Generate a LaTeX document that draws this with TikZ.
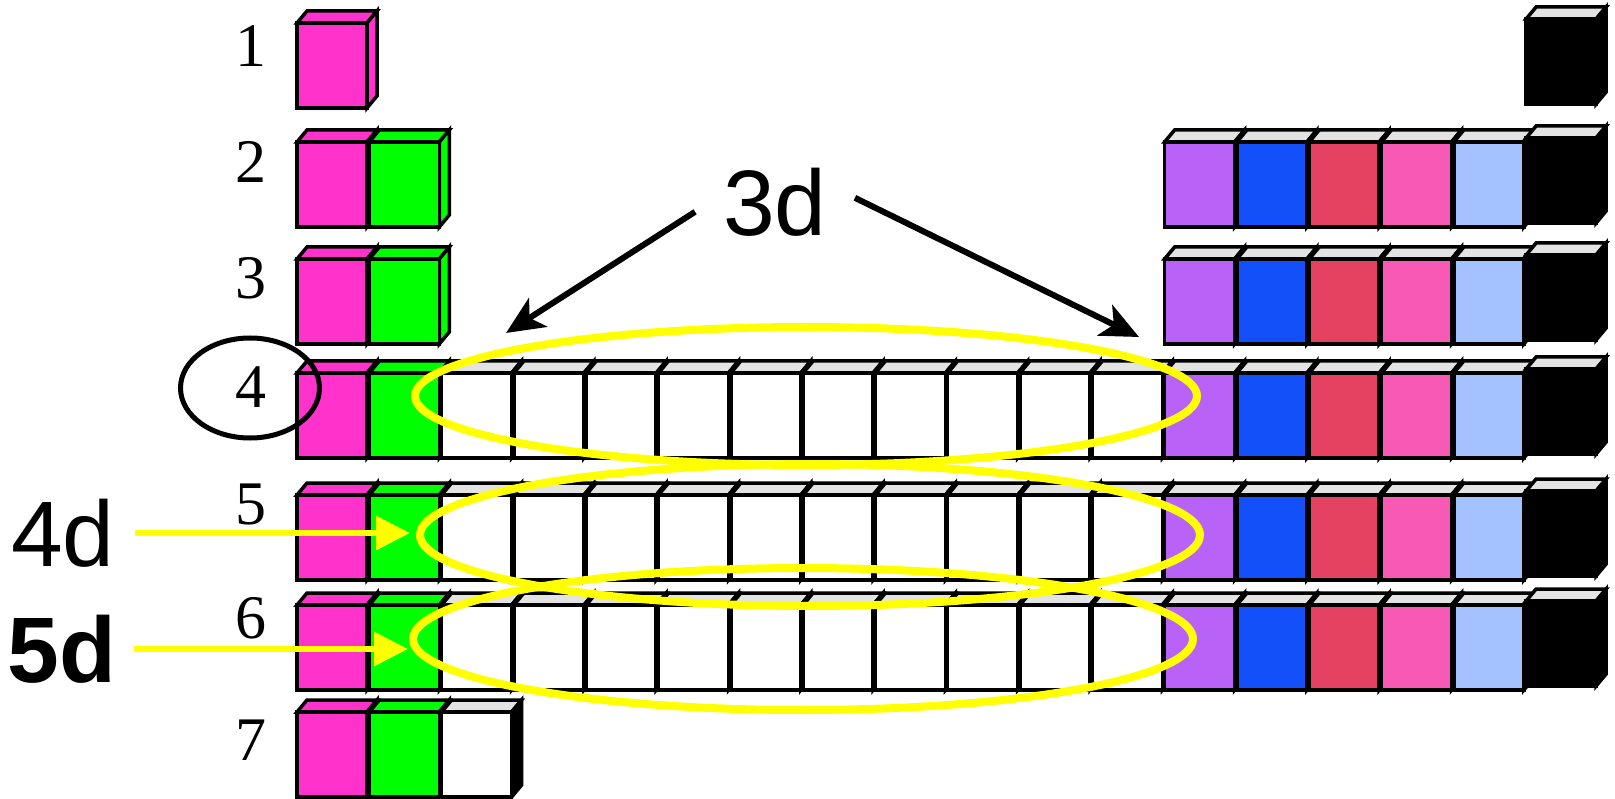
\documentclass[tikz,border=0pt]{standalone}
\usepackage{fontspec}
\setmainfont{Liberation Serif}
\setsansfont{Liberation Sans}
\usetikzlibrary{arrows.meta, positioning, shapes.geometric}
\definecolor{sPink}{HTML}{FF33CC}
\definecolor{sGreen}{HTML}{00FF00}
\definecolor{pPurple}{HTML}{B962F7}
\definecolor{pBlue}{HTML}{1450FA}
\definecolor{pRed}{HTML}{E44260}
\definecolor{pPink}{HTML}{F859B4}
\definecolor{pLight}{HTML}{A3C2FF}
\definecolor{cellTop}{HTML}{E3E3E3}
\definecolor{orbYellow}{HTML}{FFFF00}
\tikzset{
    cellEdge/.style={line width=3.5pt, draw=black},
    periodNum/.style={font=\fontsize{62}{62}\selectfont, inner sep=0pt},
    orbLabel/.style={font=\sffamily\fontsize{93}{93}\selectfont, inner ysep=4pt},
    blackArrow/.style={-{Stealth[length=38pt, width=34pt, inset=10pt]}, line width=6pt},
    yellowArrow/.style={-{Triangle[length=34pt, width=33pt]}, line width=6.5pt, draw=orbYellow, fill=orbYellow},
    dRing/.style={line width=8pt, draw=orbYellow}
}

\begin{document}
\begin{tikzpicture}[x=1pt, y=-1pt]
        \useasboundingbox (0,0) rectangle (1615,799);

        % --- Cell Macro: column, front top, front / top / side colour ---
        \def\drawCell#1#2#3#4#5{
            \pgfmathsetmacro\cx{297+72.3*#1}
            \draw[cellEdge, fill=#4] (\cx,#2) -- ++(10,-12) -- ++(70,0) -- ++(-10,12) -- cycle;
            \draw[cellEdge, fill=#5] (\cx+70,#2) -- ++(10,-12) -- ++(0,85) -- ++(-10,12) -- cycle;
            \draw[cellEdge, fill=#3] (\cx,#2) rectangle ++(70,85);
        }

        % 1. s-block
        \foreach \y in {23,142,259,373,495,605,712} {\drawCell{0}{\y}{sPink}{sPink}{sPink}}
        \foreach \y in {142,259,373,495,605,712} {\drawCell{1}{\y}{sGreen}{sGreen}{sGreen}}

        % 2. d-block
        \foreach \c in {2,...,11} {
            \foreach \y in {373,495,605} {\drawCell{\c}{\y}{white}{cellTop}{black}}
        }
        \drawCell{2}{712}{white}{cellTop}{black}

        % 3. p-block
        \foreach \c/\col in {12/pPurple, 13/pBlue, 14/pRed, 15/pPink, 16/pLight} {
            \foreach \y in {142,259,373,495,605} {\drawCell{\c}{\y}{\col}{cellTop}{\col}}
        }
        \foreach \y in {23,142,259,373,495,605} {\drawCell{17}{\y-4}{black}{cellTop}{black}}

        % 4. d-shell rings
        \draw[dRing] (806,396) ellipse [x radius=391, y radius=69];
        \draw[dRing] (810,535) ellipse [x radius=390, y radius=71];
        \draw[dRing] (803,639) ellipse [x radius=390, y radius=71];

        % 5. Period numbers
        \foreach \r/\y in {1/46, 2/162, 3/278, 4/387, 5/505, 6/618, 7/740} {
            \node[periodNum] (n\r) at (251,\y) {\r};
        }
        \node[draw, ellipse, line width=5pt, minimum width=139pt, minimum height=100pt] (ring4) at (250,388) {};

        % 6. Shell labels and arrows
        \node[orbLabel, inner xsep=28pt] (l3d) at (775,202) {3d};
        \coordinate (t3dL) at (506,333);
        \coordinate (t3dR) at (1139,337);
        \draw[blackArrow] (l3d.187) -- (t3dL);
        \draw[blackArrow] (l3d.3.5) -- (t3dR);

        \node[orbLabel, inner xsep=20pt] (l4d) at (63,533) {4d};
        \node[orbLabel, inner xsep=18pt] (l5d) at (62,649) {\bfseries 5d};
        \coordinate (t4d) at (410,533);
        \coordinate (t5d) at (408,649);
        \draw[yellowArrow] (l4d.east) -- (t4d);
        \draw[yellowArrow] (l5d.east) -- (t5d);

\end{tikzpicture}
\end{document}
